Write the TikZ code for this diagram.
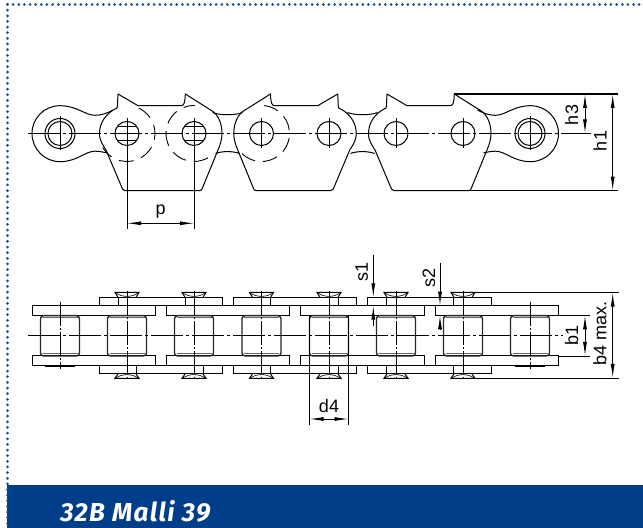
\documentclass[tikz,border=0pt]{standalone}
\usepackage{fontspec}
\setmainfont{Liberation Sans}
\newfontfamily\bannerfont[LetterSpace=5]{Fira Sans}
\usetikzlibrary{arrows.meta}
\definecolor{bannerblue}{RGB}{0,62,138}
\definecolor{dotblue}{RGB}{20,80,150}
\tikzset{
  part/.style={line width=0.5pt,black},
  thinpart/.style={line width=0.3pt,black},
  hidden/.style={line width=0.45pt,black,dash pattern=on 7.5pt off 4pt},
  centerline/.style={line width=0.4pt,black,dash pattern=on 16pt off 1.5pt on 1.5pt off 1.5pt},
  dimline/.style={line width=0.45pt,black},
  dimarrow/.style={line width=0.45pt,black,-{Latex[length=7pt,width=2pt]}},
  dimboth/.style={line width=0.45pt,black,{Latex[length=7pt,width=2pt]}-{Latex[length=7pt,width=2pt]}},
  dimlabel/.style={font=\fontsize{9}{11}\selectfont,inner sep=0pt},
  dotline/.style={line width=1.5pt,dotblue,line cap=round,dash pattern=on 0pt off 2.82pt}
}
\begin{document}
\begin{tikzpicture}[x=0.5pt,y=-0.5pt]
  \useasboundingbox (0,0) rectangle (643,528);

  % Parameter
  \def\ymid{133.5}   % Mitte Seitenansicht
  \def\ytop{94}
  \def\ybot{190.7}
  \def\zmid{335.7}   % Mitte Draufsicht

  % Rahmen und Balken
  \fill[bannerblue] (7,485) rectangle (643,528);
  \draw[dotline] (7.5,4.5) -- (643,4.5);
  \draw[dotline] (7.5,4.5) -- (7.5,528);
  \node[font=\bannerfont\bfseries\itshape\fontsize{13}{15}\selectfont,text=white,anchor=west,inner sep=0pt] (title) at (60,511) {32B Malli 39};

  % Laschen mit Zacken
  \foreach \xo/\s in {160.5/1,295.25/-1,429.5/1}{
    \draw[part,shift={(\xo,0)},xscale=\s]
      (-42.5,\ytop) -- (-22.5,105.7) -- (20.5,105.7)
      .. controls (23.5,105.7) and (24.5,103) .. (24.8,\ytop)
      -- (52.5,111.5) .. controls (58.5,116) and (61.5,125) .. (61.5,\ymid)
      .. controls (61.5,140) and (59.5,145) .. (57.5,150)
      -- (41.5,189) .. controls (41,190.3) and (40,\ybot) .. (38.5,\ybot)
      -- (-35.5,\ybot) .. controls (-37,\ybot) and (-37.6,190.2) .. (-38,189)
      -- (-54.5,150) .. controls (-57.5,145) and (-61,141) .. (-61,\ymid)
      .. controls (-61,122) and (-54,113) .. (-43.5,108)
      .. controls (-42.5,105) and (-43,100) .. (-42.5,\ytop);
  }

  % Aussenlaschen an den Enden
  \foreach \xo/\s in {0/1,590.5/-1}{
    \draw[part,shift={(\xo,0)},xscale=\s]
      (113,110) .. controls (106,114) and (100,115.3) .. (95,115.3)
      .. controls (85,115.3) and (77,105.7) .. (60,105.7)
      .. controls (44.5,105.7) and (32,118) .. (32,\ymid)
      .. controls (32,149) and (44.5,161.7) .. (60,161.7)
      .. controls (77,161.7) and (85,151.2) .. (95,151.2)
      .. controls (99,151.2) and (103,152) .. (107,153);
  }

  % Boegen zwischen den Laschen
  \foreach \xo in {227.5,362.5}{
    \draw[part,shift={(\xo,0)}] (-15,112.5) .. controls (-8,115.5) and (8,115.5) .. (15,112.5);
    \draw[part,shift={(\xo,0)}] (-12,153.5) .. controls (-6,151) and (6,151) .. (12,153.5);
  }

  % verdeckte Kreise
  \draw[hidden] (127,\ymid) ++(-65:28) arc[start angle=-65,end angle=150,radius=28];
  \draw[hidden] (194,\ymid) ++(60:28) arc[start angle=60,end angle=272,radius=28];
  \draw[hidden] (261.5,\ymid) ++(-85:28) arc[start angle=-85,end angle=150,radius=28];

  % Bolzen
  \foreach \x in {127,194,261.5,329,396,463}{
    \draw[part] (\x,\ymid) circle[radius=12];
    \draw[thinpart] (\x,\ymid-15) -- (\x,\ymid+15);
  }
  \foreach \x in {127,194}{
    \foreach \d/\w in {-7/9.7,7/9.7}{
      \draw[thinpart] (\x-\w,\ymid+\d) -- (\x+\w,\ymid+\d);
    }
  }
  \foreach \x in {60,530}{
    \draw[part] (\x,\ymid) circle[radius=15];
    \draw[part] (\x,\ymid) circle[radius=12];
    \draw[thinpart] (\x,\ymid-17) -- (\x,\ymid+17);
  }
  \draw[centerline] (28,\ymid) -- (590.5,\ymid);

  % Innenlaschen Draufsicht
  \foreach \x in {32.3,166.3,300.7,435}{
    \draw[part] (\x,305.7) rectangle (\x+123.3,315.3);
    \draw[part] (\x,356) rectangle (\x+123.3,365.7);
  }
  % Aussenlaschen Draufsicht
  \foreach \x in {99.3,233.3,367.7}{
    \draw[part] (\x,297.3) rectangle (\x+123.3,305.7);
    \draw[part] (\x,365.7) rectangle (\x+123.3,374);
  }
  \foreach \x in {118.3,185.3,270.7,338.3,386.7,453.3}{
    \draw[thinpart] (\x,297.3) -- (\x,305.7);
  }
  \foreach \x in {136.5,203.5,270.7,338.3,386.7,453.3}{
    \draw[thinpart] (\x,365.7) -- (\x,374);
  }

  % Rollen
  \foreach \x in {60,127,194,261.5,329,396,463,530}{
    \draw[line width=0.7pt,black!85,rounded corners=1.5pt] (\x-19.5,315.7) rectangle (\x+19.5,356);
    \draw[line width=0.4pt,black!60] (\x-17.5,317.8) -- (\x+17.5,317.8);
    \draw[line width=0.4pt,black!60] (\x-17.5,353.9) -- (\x+17.5,353.9);
  }

  % Bolzenkoepfe
  \foreach \x in {127,194,261.5,329,396,463}{
    \draw[part] (\x-9,297.3) -- (\x-12,292.5) -- (\x+12,292.5) -- (\x+9,297.3);
    \draw[thinpart] (\x-11,293) .. controls (\x-5,297.5) and (\x+5,297.5) .. (\x+11,293);
    \draw[part] (\x-9,374) -- (\x-12,378.3) -- (\x+12,378.3) -- (\x+9,374);
    \draw[thinpart] (\x-11,378) .. controls (\x-5,373.5) and (\x+5,373.5) .. (\x+11,378);
    \draw[centerline,line width=0.5pt,dash pattern=on 12pt off 1pt on 1pt off 1pt] (\x,290.7) -- (\x,380.7);
  }
  \foreach \x in {60,530}{
    \draw[part] (\x-15,305.2) -- (\x+15,305.2);
    \draw[part] (\x-15,366.2) -- (\x+15,366.2);
    \draw[centerline,dash pattern=on 12pt off 1pt on 1pt off 1pt] (\x,301.7) -- (\x,369.3);
  }
  \draw[centerline] (28,\zmid) -- (563,\zmid);

  % Bemassung p
  \coordinate (pa) at (127,223.3);
  \coordinate (pb) at (194,223.3);
  \draw[dimline] (127,122) -- (127,229);
  \draw[dimline] (194,122) -- (194,229);
  \draw[dimboth] (pa) -- (pb);
  \node[dimlabel] (plabel) at (160.7,212) {p};

  % Bemassung h3, h1
  \coordinate (hoben) at (618,\ytop);
  \coordinate (hunten) at (618,\ybot);
  \draw[line width=0.6pt] (453.5,\ytop) -- (hoben);
  \draw[dimline] (468,\ybot) -- (hunten);
  \coordinate (h3a) at (585,\ytop);
  \coordinate (h3b) at (585,\ymid);
  \coordinate (h1a) at (612.7,\ytop);
  \coordinate (h1b) at (612.7,\ybot);
  \draw[dimboth] (h3a) -- (h3b);
  \draw[dimboth] (h1a) -- (h1b);
  \node[dimlabel,rotate=90] (h3label) at (571.7,115) {h3};
  \node[dimlabel,rotate=90] (h1label) at (600,141) {h1};

  % Bemassung d4
  \coordinate (da) at (309.5,419);
  \coordinate (db) at (348.5,419);
  \draw[dimline] (309.5,316) -- (309.5,425);
  \draw[dimline] (348.5,316) -- (348.5,425);
  \draw[dimboth] (da) -- (db);
  \node[dimlabel] (d4label) at (329,406) {d4};

  % Bemassung s1, s2
  \coordinate (s1a) at (373.3,297.3);
  \coordinate (s1b) at (373.3,305.7);
  \coordinate (s1c) at (373.3,255);
  \coordinate (s1d) at (373.3,325.7);
  \draw[dimarrow] (s1c) -- (s1a);
  \draw[dimarrow] (s1d) -- (s1b);
  \node[dimlabel,rotate=90] (s1label) at (361.7,271.7) {s1};
  \coordinate (s2a) at (440,305.7);
  \coordinate (s2b) at (440,315.3);
  \coordinate (s2c) at (440,262.7);
  \coordinate (s2d) at (440,329);
  \draw[dimarrow] (s2c) -- (s2a);
  \draw[dimarrow] (s2d) -- (s2b);
  \node[dimlabel,rotate=90] (s2label) at (429,278) {s2};

  % Bemassung b1, b4
  \draw[dimline] (558.3,315.3) -- (590,315.3);
  \draw[dimline] (558.3,356) -- (590,356);
  \draw[dimline] (475,292.7) -- (619,292.7);
  \draw[dimline] (475,378) -- (619,378);
  \coordinate (b1a) at (585,315.3);
  \coordinate (b1b) at (585,356);
  \coordinate (b4a) at (612.7,292.7);
  \coordinate (b4b) at (612.7,378);
  \draw[dimboth] (b1a) -- (b1b);
  \draw[dimboth] (b4a) -- (b4b);
  \node[dimlabel,rotate=90] (b1label) at (571.7,335.7) {b1};
  \node[dimlabel,rotate=90] (b4label) at (600,333) {b4 max.};

\end{tikzpicture}
\end{document}
